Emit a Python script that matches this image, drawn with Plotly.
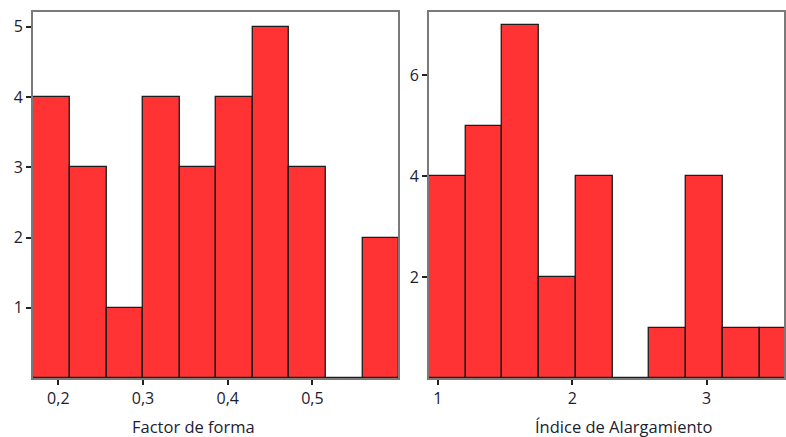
import plotly.graph_objects as go

# Left histogram: Factor de forma
ff_bin_start = 0.1704
ff_bin_width = 0.0432
ff_counts = [4, 3, 1, 4, 3, 4, 5, 3, 0, 2]
ff_tickvals = [0.2, 0.3, 0.4, 0.5]
ff_ticktext = ["0,2", "0,3", "0,4", "0,5"]
ff_yticks = [1, 2, 3, 4, 5]

# Right histogram: Índice de Alargamiento
ia_bin_start = 0.933
ia_bin_width = 0.2735
ia_counts = [4, 5, 7, 2, 4, 0, 1, 4, 1, 1]
ia_tickvals = [1, 2, 3]
ia_ticktext = ["1", "2", "3"]
ia_yticks = [2, 4, 6]

ff_centers = [ff_bin_start + ff_bin_width * (i + 0.5) for i in range(len(ff_counts))]
ia_centers = [ia_bin_start + ia_bin_width * (i + 0.5) for i in range(len(ia_counts))]

W, H = 786, 437
bar_fill = "#FF3333"
bar_edge = "#1c1c1c"
frame = "#7a7a7a"
txt = "#1c2130"
font_family = "Open Sans, Noto Sans, sans-serif"

fig = go.Figure()
fig.add_trace(go.Bar(x=ff_centers, y=ff_counts, width=[ff_bin_width] * len(ff_counts),
                     marker=dict(color=bar_fill, line=dict(color=bar_edge, width=1.3)),
                     xaxis="x", yaxis="y", showlegend=False))
fig.add_trace(go.Bar(x=ia_centers, y=ia_counts, width=[ia_bin_width] * len(ia_counts),
                     marker=dict(color=bar_fill, line=dict(color=bar_edge, width=1.3)),
                     xaxis="x2", yaxis="y2", showlegend=False))

ydom = [59 / H, 425 / H]
axis_common = dict(showline=True, mirror=True, linecolor=frame, linewidth=1.5,
                   showgrid=False, zeroline=False, ticks="outside", tickcolor="#222",
                   tickwidth=2, tickfont=dict(family=font_family, size=16, color=txt))

fig.update_layout(
    width=W, height=H,
    margin=dict(l=0, r=0, t=0, b=0),
    paper_bgcolor="white", plot_bgcolor="white",
    bargap=0,
    xaxis=dict(domain=[33 / W, 399 / W], range=[0.170, 0.601], tickvals=ff_tickvals,
               ticktext=ff_ticktext, ticklen=5, anchor="y", **axis_common),
    yaxis=dict(domain=ydom, range=[0, 5.21], tickvals=ff_yticks, ticklen=5, anchor="x",
               **axis_common),
    xaxis2=dict(domain=[430 / W, 1.0], range=[0.933, 3.576], tickvals=ia_tickvals,
                ticktext=ia_ticktext, ticklen=5, anchor="y2", **axis_common),
    yaxis2=dict(domain=ydom, range=[0, 7.25], tickvals=ia_yticks, ticklen=5, anchor="x2",
                **axis_common),
    annotations=[
        dict(text="Factor de forma", x=194 / W, y=(H - 426) / H, xref="paper", yref="paper",
             showarrow=False, xanchor="center", yanchor="middle",
             font=dict(family=font_family, size=16.5, color=txt)),
        dict(text="Índice de Alargamiento", x=625 / W, y=(H - 426) / H, xref="paper",
             yref="paper", showarrow=False, xanchor="center", yanchor="middle",
             font=dict(family=font_family, size=16.5, color=txt)),
    ],
)

fig.write_html("out.html", config={"displayModeBar": False},
               post_script="document.body.style.margin='0';document.body.style.overflow='hidden';")
